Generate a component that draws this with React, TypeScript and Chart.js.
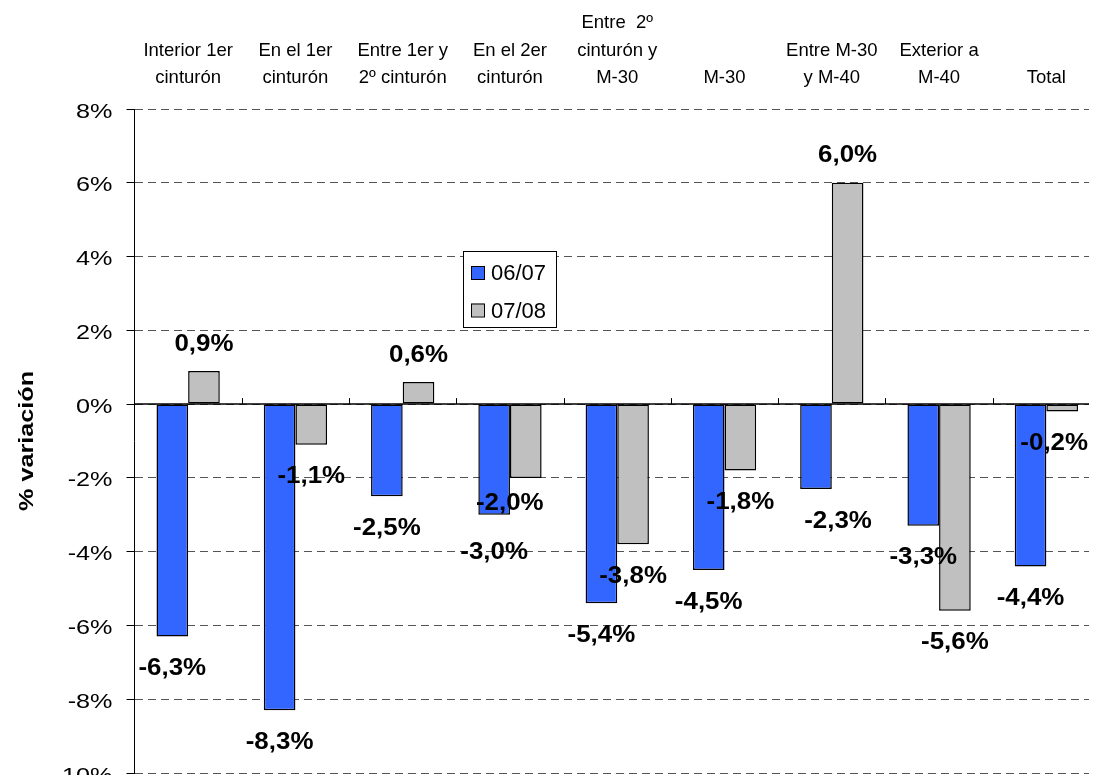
import React, { useEffect, useRef } from "react";
import { Chart, registerables } from "chart.js";

Chart.register(...registerables);

const categories: (string | string[])[] = [
  ["Interior 1er", "cinturón"],
  ["En el 1er", "cinturón"],
  ["Entre 1er y", "2º cinturón"],
  ["En el 2er", "cinturón"],
  ["Entre  2º", "cinturón y", "M-30"],
  "M-30",
  ["Entre M-30", "y M-40"],
  ["Exterior a", "M-40"],
  "Total",
];
const seriesLabels = ["06/07", "07/08"];
const values0607 = [-6.3, -8.3, -2.5, -3.0, -5.4, -4.5, -2.3, -3.3, -4.4];
const values0708 = [0.9, -1.1, 0.6, -2.0, -3.8, -1.8, 6.0, -5.6, -0.2];
const yMin = -10;
const yMax = 8;
const yStep = 2;
const yAxisTitle = "% variación";

const FONT = "'Liberation Sans', Arial, Helvetica, sans-serif";
const BLUE = "#3366FF";
const GRAY = "#C0C0C0";

const fmt = (v: number) => v.toFixed(1).replace(".", ",") + "%";

function drawStretched(
  ctx: CanvasRenderingContext2D,
  text: string,
  x: number,
  y: number,
  sx: number,
  align: CanvasTextAlign
) {
  ctx.save();
  ctx.translate(x, y);
  ctx.scale(sx, 1);
  ctx.textAlign = align;
  ctx.textBaseline = "alphabetic";
  ctx.fillText(text, 0, 0);
  ctx.restore();
}

// small manual nudges of some value labels (text only), keyed "dataset-index"
const labelNudges: Record<string, [number, number]> = {
  "0-6": [22, 0],
  "1-3": [-16, -6],
  "1-8": [-8, 0],
  "0-3": [0, 6],
};

const customPlugin = {
  id: "customDraw",
  afterDatasetsDraw(chart: any) {
    const ctx: CanvasRenderingContext2D = chart.ctx;
    const { chartArea } = chart;
    const xScale = chart.scales.x;
    const yScale = chart.scales.y;
    const zeroY = yScale.getPixelForValue(0);

    // zero line
    ctx.save();
    ctx.strokeStyle = "#000";
    ctx.lineWidth = 1.5;
    ctx.beginPath();
    ctx.moveTo(chartArea.left, zeroY);
    ctx.lineTo(chartArea.right, zeroY);
    ctx.stroke();
    // category tick marks on zero line
    const step = xScale.getPixelForValue(1) - xScale.getPixelForValue(0);
    ctx.lineWidth = 1;
    for (let i = 1; i < categories.length; i++) {
      const bx = Math.round(xScale.getPixelForValue(i) - step / 2) + 0.5;
      ctx.beginPath();
      ctx.moveTo(bx, zeroY - 6);
      ctx.lineTo(bx, zeroY);
      ctx.stroke();
    }
    ctx.restore();

    // y tick labels
    ctx.save();
    ctx.fillStyle = "#000";
    ctx.font = `21px ${FONT}`;
    yScale.ticks.forEach((t: any) => {
      const y = yScale.getPixelForValue(t.value);
      drawStretched(ctx, `${t.value}%`, yScale.right - 22, y + 8.5, 1.2, "right");
    });
    ctx.restore();

    // y axis title
    ctx.save();
    ctx.fillStyle = "#000";
    ctx.font = `bold 21px ${FONT}`;
    ctx.translate(25, (chartArea.top + chartArea.bottom) / 2);
    ctx.rotate(-Math.PI / 2);
    ctx.scale(1.2, 1);
    ctx.textAlign = "center";
    ctx.textBaseline = "alphabetic";
    ctx.fillText(yAxisTitle, 0, 0);
    ctx.restore();

    // value labels
    ctx.save();
    ctx.fillStyle = "#000";
    ctx.font = `bold 24px ${FONT}`;
    chart.data.datasets.forEach((ds: any, di: number) => {
      const meta = chart.getDatasetMeta(di);
      meta.data.forEach((bar: any, j: number) => {
        const v = ds.data[j] as number;
        const nudge = labelNudges[`${di}-${j}`] || [0, 0];
        const cy = v >= 0 ? bar.y - 29 : bar.y + 30;
        drawStretched(ctx, fmt(v), bar.x + nudge[0], cy + nudge[1] + 8.6, 1.08, "center");
      });
    });
    ctx.restore();

    // legend box
    const lx = chartArea.left + 328.5;
    const ly = chartArea.top + 142;
    ctx.save();
    ctx.fillStyle = "#fff";
    ctx.fillRect(lx, ly, 93, 76);
    ctx.strokeStyle = "#000";
    ctx.lineWidth = 1;
    ctx.strokeRect(lx + 0.5, ly + 0.5, 93, 76);
    ctx.font = `22px ${FONT}`;
    chart.data.datasets.forEach((ds: any, di: number) => {
      const cyItem = ly + (di === 0 ? 21.5 : 59);
      ctx.fillStyle = ds.backgroundColor;
      ctx.fillRect(lx + 8, cyItem - 6.5, 13, 13);
      ctx.strokeStyle = "#000";
      ctx.strokeRect(lx + 8.5, cyItem - 6, 13, 13);
      ctx.fillStyle = "#000";
      ctx.textAlign = "left";
      ctx.textBaseline = "alphabetic";
      ctx.fillText(ds.label, lx + 28, cyItem + 7.9);
    });
    ctx.restore();
  },
};

export default function App() {
  const canvasRef = useRef<HTMLCanvasElement | null>(null);

  useEffect(() => {
    if (!canvasRef.current) return;
    const chart = new Chart(canvasRef.current, {
      type: "bar",
      data: {
        labels: categories,
        datasets: [
          {
            label: seriesLabels[0],
            data: values0607,
            backgroundColor: BLUE,
            borderColor: "#000",
            borderWidth: 1.5,
            borderSkipped: false,
            categoryPercentage: 0.59,
            barPercentage: 1,
          },
          {
            label: seriesLabels[1],
            data: values0708,
            backgroundColor: GRAY,
            borderColor: "#000",
            borderWidth: 1.5,
            borderSkipped: false,
            categoryPercentage: 0.59,
            barPercentage: 1,
          },
        ],
      },
      options: {
        animation: false,
        responsive: true,
        maintainAspectRatio: false,
        layout: { padding: { left: 0, right: 0, top: 0, bottom: 2 } },
        plugins: {
          legend: { display: false },
          tooltip: { enabled: false },
        },
        scales: {
          x: {
            type: "category",
            position: "top",
            offset: true,
            grid: { display: false, drawTicks: false },
            border: { display: false },
            ticks: {
              color: "#000",
              font: { family: FONT, size: 18.5, lineHeight: 1.49 },
              padding: 17,
              maxRotation: 0,
              minRotation: 0,
              autoSkip: false,
            },
            afterFit: (s: any) => {
              s.height = 101;
            },
          },
          y: {
            min: yMin,
            max: yMax,
            ticks: { stepSize: yStep, display: false },
            grid: {
              color: "#555",
              lineWidth: 1,
              drawTicks: true,
              tickLength: 8,
              tickColor: "#000",
              tickWidth: 1,
            },
            border: { display: true, color: "#000", width: 1, dash: [8, 5] },
            afterFit: (s: any) => {
              s.width = 126.5;
            },
          },
        },
      },
      plugins: [customPlugin],
    });
    return () => chart.destroy();
  }, []);

  return (
    <div style={{ width: 1089, height: 767, overflow: "hidden" }}>
      <div style={{ width: 1092, height: 767, position: "relative" }}>
        <canvas ref={canvasRef} />
      </div>
    </div>
  );
}
